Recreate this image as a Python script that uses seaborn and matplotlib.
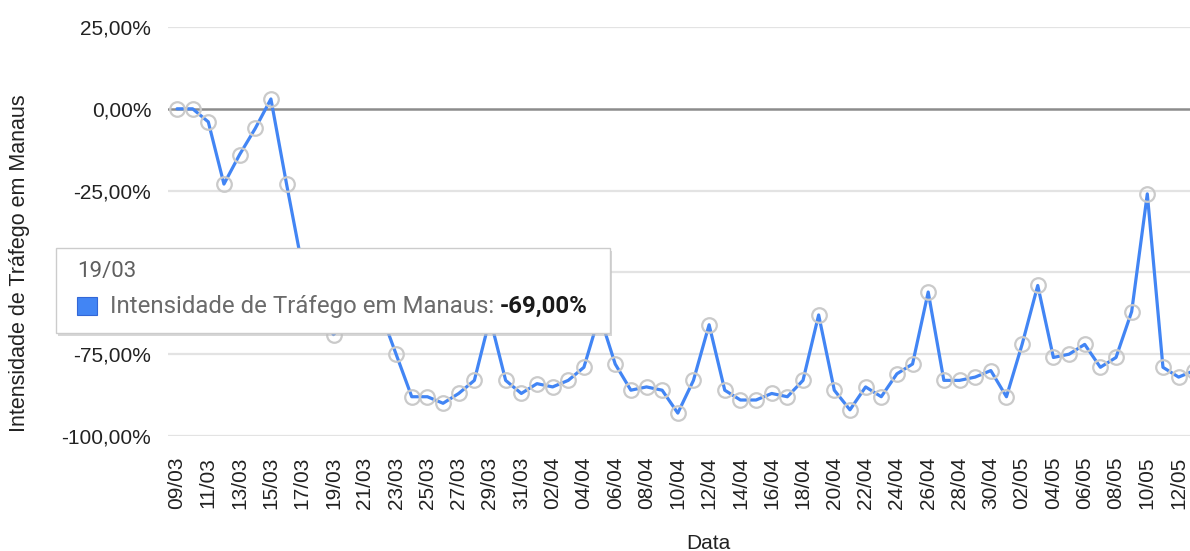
import matplotlib
matplotlib.use("Agg")
import matplotlib.pyplot as plt
import seaborn as sns
import pandas as pd
from matplotlib.patches import Rectangle

dates = ["09/03", "10/03", "11/03", "12/03", "13/03", "14/03", "15/03", "16/03", "17/03", "18/03",
         "19/03", "20/03", "21/03", "22/03", "23/03", "24/03", "25/03", "26/03", "27/03", "28/03",
         "29/03", "30/03", "31/03", "01/04", "02/04", "03/04", "04/04", "05/04", "06/04", "07/04",
         "08/04", "09/04", "10/04", "11/04", "12/04", "13/04", "14/04", "15/04", "16/04", "17/04",
         "18/04", "19/04", "20/04", "21/04", "22/04", "23/04", "24/04", "25/04", "26/04", "27/04",
         "28/04", "29/04", "30/04", "01/05", "02/05", "03/05", "04/05", "05/05", "06/05", "07/05",
         "08/05", "09/05", "10/05", "11/05", "12/05", "13/05"]
intensidade = [0, 0, -4, -23, -14, -6, 3, -23, -48, -62,
               -69, -64, -65, -62, -75, -88, -88, -90, -87, -83,
               -64, -83, -87, -84, -85, -83, -79, -63, -78, -86,
               -85, -86, -93, -83, -66, -86, -89, -89, -87, -88,
               -83, -63, -86, -92, -85, -88, -81, -78, -56, -83,
               -83, -82, -80, -88, -72, -54, -76, -75, -72, -79,
               -76, -62, -26, -79, -82, -80]
y_ticks = [25, 0, -25, -50, -75, -100]
series_name = "Intensidade de Tráfego em Manaus"
tooltip_date = "19/03"
tooltip_value = "-69,00%"

df = pd.DataFrame({"idx": range(len(dates)), "data": dates, "valor": intensidade})

sns.set_theme(style="white")
plt.rcParams["font.family"] = ["Liberation Sans", "DejaVu Sans"]

W, H = 1190, 551
fig = plt.figure(figsize=(W / 100, H / 100), dpi=100)
ax = fig.add_axes([168 / W, 1 - 436 / H, (W - 168) / W, (436 - 27) / H])

for v in y_ticks:
    if v == 0:
        continue
    ax.axhline(v, color="#e3e3e3", lw=1.6, zorder=0)
ax.axhline(0, color="#8c8c8c", lw=1.8, zorder=1)

sns.lineplot(data=df, x="idx", y="valor", ax=ax, color="#4285F4", lw=2.3,
             marker="o", markersize=10.5, markerfacecolor="none",
             markeredgecolor="#cacaca", markeredgewidth=1.6, zorder=3)

ax.set_ylim(-100, 25)
ax.set_xlim(-9 / 15.65, (W - 177) / 15.65)
ax.set_yticks(y_ticks)
ax.set_yticklabels([f"{v},00%" for v in y_ticks], fontsize=15, color="#222222")
ax.set_xticks(list(range(0, len(dates), 2)))
ax.set_xticklabels(dates[::2], rotation=90, fontsize=15, color="#222222")
ax.tick_params(axis="x", length=0, pad=15)
ax.tick_params(axis="y", length=0, pad=12)
for s in ax.spines.values():
    s.set_visible(False)
ax.grid(False)

ax.set_xlabel("Data", fontsize=15, color="#222222")
ax.xaxis.set_label_coords((708 - 168) / (W - 168), (436 - 534) / 409)
ax.set_ylabel(series_name, fontsize=15.5, color="#222222")
ax.yaxis.set_label_coords((30 - 168) / (W - 168), (436 - 263.5) / 409)

# tooltip overlay
x0, y0, x1, y1 = 56, 248, 610, 333
fig.patches.append(Rectangle(((x0 + 2) / W, 1 - (y1 + 3) / H), (x1 - x0) / W, (y1 - y0) / H,
                             transform=fig.transFigure, facecolor="#bdbdbd", edgecolor="none",
                             alpha=0.6, zorder=9))
fig.patches.append(Rectangle((x0 / W, 1 - y1 / H), (x1 - x0) / W, (y1 - y0) / H,
                             transform=fig.transFigure, facecolor="white", edgecolor="#cccccc",
                             lw=1.0, zorder=10))
fig.patches.append(Rectangle((77 / W, 1 - 315 / H), 20 / W, 18 / H,
                             transform=fig.transFigure, facecolor="#4285F4", edgecolor="#3367d6",
                             lw=0.8, zorder=11))
fig.text(77 / W, 1 - 272 / H, tooltip_date, fontsize=16, color="#5f5f5f",
         family=["Roboto", "DejaVu Sans"], va="center", ha="left", zorder=11)
t1 = fig.text(110 / W, 1 - 306 / H, series_name + ": ", fontsize=17.3, color="#6b6b6b",
              family=["Roboto", "DejaVu Sans"], va="center", ha="left", zorder=11)
fig.canvas.draw()
bb = t1.get_window_extent(renderer=fig.canvas.get_renderer())
fig.text(bb.x1 / W, 1 - 306 / H, tooltip_value, fontsize=17.3, color="#1a1a1a", fontweight="bold",
         family=["Roboto", "DejaVu Sans"], va="center", ha="left", zorder=11)

fig.savefig("out.png", dpi=100)
